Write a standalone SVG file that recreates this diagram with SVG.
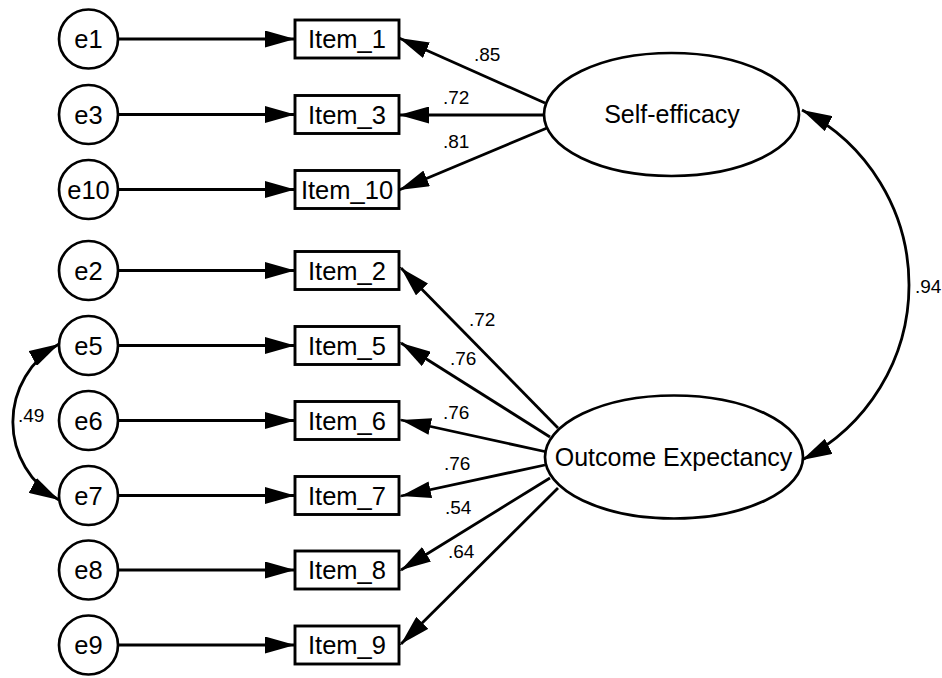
<svg xmlns="http://www.w3.org/2000/svg" width="942" height="678" viewBox="0 0 942 678">
  <style>
    .node { fill: #fff; stroke: #000; stroke-width: 2.7; }
    .box { fill: #fff; stroke: #000; stroke-width: 2.9; }
    .lbl { font-family: "Liberation Sans", Arial, sans-serif; font-size: 25.5px; fill: #000; text-anchor: middle; }
    .lat { font-family: "Liberation Sans", Arial, sans-serif; font-size: 25px; fill: #000; text-anchor: middle; }
    .coef { font-family: "Liberation Sans", Arial, sans-serif; font-size: 19px; fill: #000; }
    .path { fill: none; stroke: #000; stroke-width: 2.8; marker-end: url(#head); }
    .cov { fill: none; stroke: #000; stroke-width: 2.8; marker-start: url(#head); marker-end: url(#head); }
    .tick { stroke: #000; stroke-width: 1; }
  </style>
  <defs>
    <marker id="head" viewBox="0 0 30 17" refX="30" refY="8.5" markerWidth="30" markerHeight="17" markerUnits="userSpaceOnUse" orient="auto-start-reverse">
      <path d="M0,0 L30,8.5 L0,17 Z" fill="#000"/>
    </marker>
  </defs>
  <rect width="942" height="678" fill="#fff"/>

  <!-- connectors -->
  <g id="connectors">
    <!-- error terms to items -->
    <line class="path" x1="118" y1="39" x2="295" y2="39"/>
    <line class="path" x1="118" y1="114.5" x2="295" y2="114.5"/>
    <line class="path" x1="118" y1="189.5" x2="295" y2="189.5"/>
    <line class="path" x1="118" y1="270.5" x2="295" y2="270.5"/>
    <line class="path" x1="118" y1="345.5" x2="295" y2="345.5"/>
    <line class="path" x1="118" y1="420.5" x2="295" y2="420.5"/>
    <line class="path" x1="118" y1="495.5" x2="295" y2="495.5"/>
    <line class="path" x1="118" y1="570" x2="295" y2="570"/>
    <line class="path" x1="118" y1="645" x2="295" y2="645"/>
    <line class="tick" x1="295" y1="39" x2="305" y2="39"/>
    <line class="tick" x1="295" y1="114.5" x2="305" y2="114.5"/>
    <line class="tick" x1="295" y1="189.5" x2="305" y2="189.5"/>
    <line class="tick" x1="295" y1="270.5" x2="305" y2="270.5"/>
    <line class="tick" x1="295" y1="345.5" x2="305" y2="345.5"/>
    <line class="tick" x1="295" y1="420.5" x2="305" y2="420.5"/>
    <line class="tick" x1="295" y1="495.5" x2="305" y2="495.5"/>
    <line class="tick" x1="295" y1="570" x2="305" y2="570"/>
    <line class="tick" x1="295" y1="645" x2="305" y2="645"/>

    <!-- Self-efficacy loadings -->
    <line class="path" x1="545" y1="103" x2="399" y2="38"/>
    <line class="path" x1="544" y1="115" x2="399" y2="115"/>
    <line class="path" x1="547" y1="128" x2="399" y2="190"/>
    <line class="tick" x1="399" y1="38" x2="390.8" y2="34.3"/>
    <line class="tick" x1="399" y1="115" x2="390" y2="115"/>
    <line class="tick" x1="399" y1="190" x2="390.7" y2="193.5"/>

    <!-- Outcome Expectancy loadings -->
    <line class="path" x1="558" y1="428" x2="401" y2="268"/>
    <line class="path" x1="550" y1="437" x2="401" y2="343"/>
    <line class="path" x1="547" y1="452" x2="401" y2="420"/>
    <line class="path" x1="545" y1="465" x2="401" y2="496"/>
    <line class="path" x1="550" y1="478" x2="401" y2="570"/>
    <line class="path" x1="558" y1="488" x2="401" y2="644"/>
    <line class="tick" x1="401" y1="268" x2="394.7" y2="261.6"/>
    <line class="tick" x1="401" y1="343" x2="393.4" y2="338.2"/>
    <line class="tick" x1="401" y1="420" x2="392.2" y2="418.1"/>
    <line class="tick" x1="401" y1="496" x2="392.2" y2="497.9"/>
    <line class="tick" x1="401" y1="570" x2="393.3" y2="574.7"/>
    <line class="tick" x1="401" y1="644" x2="394.6" y2="650.3"/>

    <!-- covariances -->
    <path class="cov" d="M802,110 A196.6,196.6 0 0 1 802,460"/>
    <path class="cov" d="M59,344 A89,89 0 0 0 59,500"/>

    <!-- coefficients -->
    <text class="coef" x="474" y="61">.85</text>
    <text class="coef" x="443" y="104">.72</text>
    <text class="coef" x="443" y="148">.81</text>
    <text class="coef" x="469" y="326">.72</text>
    <text class="coef" x="450" y="365">.76</text>
    <text class="coef" x="443" y="419">.76</text>
    <text class="coef" x="444" y="470">.76</text>
    <text class="coef" x="445" y="514">.54</text>
    <text class="coef" x="448" y="558">.64</text>
    <text class="coef" x="915" y="293">.94</text>
    <text class="coef" x="18" y="422">.49</text>
  </g>

  <!-- error terms -->
  <g id="e1"><circle class="node" cx="88.5" cy="39" r="29.5"/><text class="lbl" x="88.5" y="48">e1</text></g>
  <g id="e3"><circle class="node" cx="88.5" cy="114.5" r="29.5"/><text class="lbl" x="88.5" y="123.5">e3</text></g>
  <g id="e10"><circle class="node" cx="88.5" cy="189.5" r="29.5"/><text class="lbl" x="88.5" y="198.5">e10</text></g>
  <g id="e2"><circle class="node" cx="88.5" cy="270.5" r="29.5"/><text class="lbl" x="88.5" y="279.5">e2</text></g>
  <g id="e5"><circle class="node" cx="88.5" cy="345.5" r="29.5"/><text class="lbl" x="88.5" y="354.5">e5</text></g>
  <g id="e6"><circle class="node" cx="88.5" cy="420.5" r="29.5"/><text class="lbl" x="88.5" y="429.5">e6</text></g>
  <g id="e7"><circle class="node" cx="88.5" cy="495.5" r="29.5"/><text class="lbl" x="88.5" y="504.5">e7</text></g>
  <g id="e8"><circle class="node" cx="88.5" cy="570" r="29.5"/><text class="lbl" x="88.5" y="579">e8</text></g>
  <g id="e9"><circle class="node" cx="88.5" cy="645" r="29.5"/><text class="lbl" x="88.5" y="654">e9</text></g>

  <!-- observed items -->
  <g id="item1"><rect class="box" x="295" y="20" width="104" height="38"/><text class="lbl" x="347" y="48">Item_1</text></g>
  <g id="item3"><rect class="box" x="295" y="95.5" width="104" height="38"/><text class="lbl" x="347" y="123.5">Item_3</text></g>
  <g id="item10"><rect class="box" x="295" y="170.5" width="104" height="38"/><text class="lbl" x="347" y="198.5">Item_10</text></g>
  <g id="item2"><rect class="box" x="295" y="251.5" width="104" height="38"/><text class="lbl" x="347" y="279.5">Item_2</text></g>
  <g id="item5"><rect class="box" x="295" y="326.5" width="104" height="38"/><text class="lbl" x="347" y="354.5">Item_5</text></g>
  <g id="item6"><rect class="box" x="295" y="401.5" width="104" height="38"/><text class="lbl" x="347" y="429.5">Item_6</text></g>
  <g id="item7"><rect class="box" x="295" y="476.5" width="104" height="38"/><text class="lbl" x="347" y="504.5">Item_7</text></g>
  <g id="item8"><rect class="box" x="295" y="551" width="104" height="38"/><text class="lbl" x="347" y="579">Item_8</text></g>
  <g id="item9"><rect class="box" x="295" y="626" width="104" height="38"/><text class="lbl" x="347" y="654">Item_9</text></g>

  <!-- latent factors -->
  <g id="self-efficacy"><ellipse class="node" cx="671.5" cy="114.5" rx="127.5" ry="61.5"/><text class="lat" x="672" y="123">Self-efficacy</text></g>
  <g id="outcome-expectancy"><ellipse class="node" cx="674" cy="457" rx="129" ry="61.5"/><text class="lat" x="673.5" y="466">Outcome Expectancy</text></g>
</svg>
